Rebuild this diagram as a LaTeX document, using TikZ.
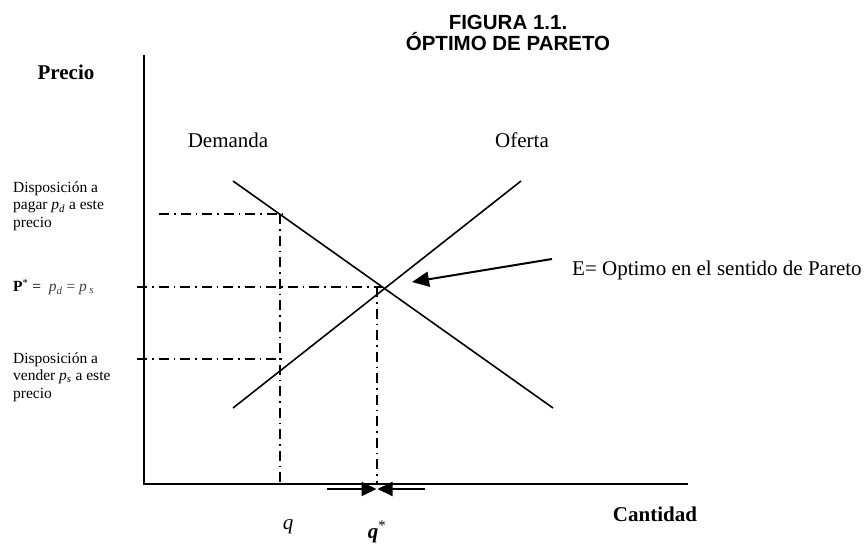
\documentclass[tikz,border=0pt]{standalone}
\usepackage{fontspec}
\setmainfont{Liberation Serif}
\newfontfamily\titlefont{Liberation Sans}
\usetikzlibrary{arrows.meta}
\begin{document}
\begin{tikzpicture}[x=1pt,y=-1pt,
  axisline/.style={line width=1.8pt},
  curve/.style={line width=1.6pt},
  guide/.style={line width=1.4pt,dash pattern=on 10pt off 5pt on 1.5pt off 5pt},
  lbl/.style={inner sep=0pt,font=\fontsize{21}{24}\selectfont},
  sidelbl/.style={inner sep=0pt,anchor=west,align=left,font=\fontsize{15.5}{17.5}\selectfont},
  tip/.style={-{Triangle[length=15pt,width=14pt]},line width=1.8pt}
]
\useasboundingbox (0,0) rectangle (868,544);
% axes
\coordinate (O) at (144,484);
\coordinate (Ytop) at (144,55);
\coordinate (Xend) at (688,484);
\draw[axisline] (Ytop) -- (O) -- (Xend);
% curves
\coordinate (D1) at (233,181);
\coordinate (D2) at (553,408);
\coordinate (S1) at (233,408);
\coordinate (S2) at (521,181);
\draw[curve] (D1) -- (D2);
\draw[curve] (S1) -- (S2);
\coordinate (E) at (intersection of D1--D2 and S1--S2);
% guides
\coordinate (gA) at (159,214);
\coordinate (gAe) at (282,214);
\coordinate (gB) at (137,287);
\coordinate (gBe) at (382,287);
\coordinate (gC) at (137,359);
\coordinate (gCe) at (282,359);
\coordinate (vq) at (280,214);
\coordinate (vqb) at (280,484);
\coordinate (vs) at (377,287);
\coordinate (vsb) at (377,484);
\draw[guide] (gA) -- (gAe);
\draw[guide] (gB) -- (gBe);
\draw[guide] (gC) -- (gCe);
\draw[guide] (vq) -- (vqb);
\draw[guide] (vs) -- (vsb);
% bottom arrows
\coordinate (La) at (327,489);
\coordinate (Lb) at (376.5,489);
\coordinate (Ra) at (425,489);
\coordinate (Rb) at (377.5,489);
\draw[tip] (La) -- (Lb);
\draw[tip] (Ra) -- (Rb);
% E arrow
\coordinate (Ea) at (552,259);
\coordinate (Eb) at (412,282);
\draw[tip,line width=2pt,-{Triangle[length=17pt,width=15pt]}] (Ea) -- (Eb);
% texts
\node[align=center,inner sep=0pt,font=\titlefont\bfseries\fontsize{20.5}{21}\selectfont] (title) at (508,33) {FIGURA 1.1.\\ÓPTIMO DE PARETO};
\node[lbl,font=\bfseries\fontsize{21}{24}\selectfont] (precio) at (66,72) {Precio};
\node[lbl] (dem) at (228,140) {Demanda};
\node[lbl] (ofe) at (522,140) {Oferta};
\node[lbl,anchor=west] (etxt) at (572,270) {E= Optimo en el sentido de Pareto};
\node[lbl,font=\bfseries\fontsize{21}{24}\selectfont] (cant) at (655,514) {Cantidad};
\node[lbl] (q) at (288,527) {\textit{q}};
\node[lbl] (qs) at (377,532) {\textbf{\textit{q}}\textsuperscript{*}};
\node[sidelbl] (pag) at (13,206) {Disposición a\\pagar \textit{p}\textsubscript{\textit{d}} a este\\precio};
\node[sidelbl] (pst) at (13,287) {\textbf{P}\textsuperscript{*} = \ \textcolor{black!75}{\textit{p}\textsubscript{\textit{d}} = \textit{p}\,\textsubscript{\textit{s}}}};
\node[sidelbl] (ven) at (13,377) {Disposición a\\vender \textit{p}\textsubscript{\textit{s}} a este\\precio};
\end{tikzpicture}
\end{document}
